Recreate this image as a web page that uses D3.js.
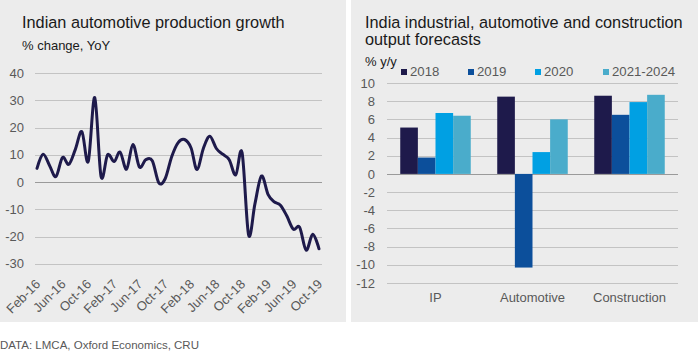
<!DOCTYPE html>
<html><head><meta charset="utf-8">
<script src="https://cdn.jsdelivr.net/npm/d3@7"></script>
<style>
body{margin:0;background:#fff;}
svg{display:block;font-family:"Liberation Sans",Arial,sans-serif;}
</style></head>
<body><svg id="c" width="698" height="351"></svg>
<script>
// ---- Left chart data ----
const lineStart = new Date(2016, 1, 1);   // Feb-16
const lineEnd = new Date(2019, 9, 1);     // Oct-19
const growth = [5, 10.2, 6, 2, 9, 6.5, 12, 18.5, 7.5, 31, 2,
  10, 7.5, 11, 4.7, 13.8, 5.5, 8.2, 7.8, -0.3, 1.2, 9.3, 14.4,
  15.6, 12.5, 4.6, 12.5, 16.8, 12.3, 10.2, 8.2, 2.6, 10.8, -19.4, -8,
  2.2, -4.5, -7.2, -8.5, -12.4, -17.3, -16.6, -25, -19.2, -24.5];
const xTickLabels = ["Feb-16","Jun-16","Oct-16","Feb-17","Jun-17","Oct-17","Feb-18","Jun-18","Oct-18","Feb-19","Jun-19","Oct-19"];
const leftYTicks = [40, 30, 20, 10, 0, -10, -20, -30];

// ---- Right chart data ----
const categories = ["IP", "Automotive", "Construction"];
const seriesNames = ["2018", "2019", "2020", "2021-2024"];
const s2018 = [5.1, 8.5, 8.6];
const s2019 = [1.8, -10.3, 6.5];
const s2020 = [6.7, 2.4, 7.9];
const s2021 = [6.4, 6.0, 8.7];
const rightYTicks = [10, 8, 6, 4, 2, 0, -2, -4, -6, -8, -10, -12];

const colors = ["#1e1a4b", "#0c4f9b", "#00a0e3", "#4aaccb"];
const bg = "#ececec", grid = "#c3c3c3", tickCol = "#595959", titleCol = "#1a1a1a";

const svg = d3.select("#c");
// panels
svg.append("rect").attr("x", 0).attr("y", 0).attr("width", 346).attr("height", 322).attr("fill", bg);
svg.append("rect").attr("x", 351).attr("y", 0).attr("width", 347).attr("height", 322).attr("fill", bg);

// ---------- LEFT ----------
const months = d3.timeMonth.range(lineStart, d3.timeMonth.offset(lineEnd, 1));
const data = months.map((d, i) => ({date: d, v: growth[i]}));
const xL = d3.scaleTime().domain([lineStart, lineEnd]).range([37, 319]);
const yL = d3.scaleLinear().domain([-30, 40]).range([263.8, 73]);

svg.append("text").attr("x", 22).attr("y", 28).attr("font-size", 16.3).attr("fill", titleCol)
  .text("Indian automotive production growth");
svg.append("text").attr("x", 22).attr("y", 50).attr("font-size", 13).attr("fill", titleCol)
  .text("% change, YoY");

const gL = svg.append("g");
gL.selectAll("line.g").data(leftYTicks).join("line")
  .attr("x1", 35).attr("x2", 322)
  .attr("y1", d => Math.round(yL(d)) + 0.5).attr("y2", d => Math.round(yL(d)) + 0.5)
  .attr("stroke", d => d === 0 ? "#9a9a9a" : grid).attr("stroke-width", 1);
gL.selectAll("text.y").data(leftYTicks).join("text")
  .attr("x", 24).attr("y", d => yL(d)).attr("dy", "0.36em")
  .attr("text-anchor", "end").attr("font-size", 13).attr("fill", tickCol)
  .text(d => d);

const tickDates = d3.timeMonth.range(lineStart, d3.timeMonth.offset(lineEnd, 1), 4);
gL.selectAll("text.x").data(tickDates).join("text")
  .attr("text-anchor", "end").attr("font-size", 13).attr("fill", tickCol)
  .attr("transform", d => `translate(${xL(d) + 4},${285}) rotate(-45)`)
  .text((d, i) => xTickLabels[i]);

const line = d3.line().x(d => xL(d.date)).y(d => yL(d.v)).curve(d3.curveCatmullRom.alpha(0));
gL.append("path").datum(data).attr("d", line)
  .attr("fill", "none").attr("stroke", "#1e1a4b").attr("stroke-width", 3)
  .attr("stroke-linejoin", "round").attr("stroke-linecap", "round");

// ---------- RIGHT ----------
svg.append("text").attr("x", 365).attr("y", 27.5).attr("font-size", 16.3).attr("fill", titleCol)
  .text("India industrial, automotive and construction");
svg.append("text").attr("x", 365).attr("y", 44.5).attr("font-size", 16.3).attr("fill", titleCol)
  .text("output forecasts");
svg.append("text").attr("x", 365).attr("y", 66).attr("font-size", 13).attr("fill", titleCol)
  .text("% y/y");

const yR = d3.scaleLinear().domain([-12, 10]).range([283, 83]);
const xR = d3.scaleBand().domain(categories).range([387, 678]).paddingInner(0.273).paddingOuter(0.1365);
const xS = d3.scaleBand().domain(seriesNames).range([0, xR.bandwidth()]);
const allSeries = [s2018, s2019, s2020, s2021];

const gR = svg.append("g");
gR.selectAll("line").data(rightYTicks).join("line")
  .attr("x1", 387).attr("x2", 678)
  .attr("y1", d => Math.round(yR(d)) + 0.5).attr("y2", d => Math.round(yR(d)) + 0.5)
  .attr("stroke", d => d === 0 ? "#9a9a9a" : grid);
gR.selectAll("text.y").data(rightYTicks).join("text")
  .attr("x", 375).attr("y", d => yR(d)).attr("dy", "0.36em")
  .attr("text-anchor", "end").attr("font-size", 13).attr("fill", tickCol).text(d => d);

const bars = [];
categories.forEach((c, ci) => allSeries.forEach((s, si) => bars.push({c, si, v: s[ci]})));
gR.selectAll("rect").data(bars).join("rect")
  .attr("x", d => xR(d.c) + xS(seriesNames[d.si]))
  .attr("width", xS.bandwidth())
  .attr("y", d => yR(Math.max(0, d.v)))
  .attr("height", d => Math.abs(yR(d.v) - yR(0)))
  .attr("fill", d => colors[d.si]);

gR.selectAll("text.cat").data(categories).join("text")
  .attr("x", d => xR(d) + xR.bandwidth() / 2).attr("y", 301.5)
  .attr("text-anchor", "middle").attr("font-size", 13).attr("fill", tickCol).text(d => d);

// legend
const legX = [401, 468, 535, 603];
const leg = svg.append("g");
seriesNames.forEach((n, i) => {
  leg.append("rect").attr("x", legX[i]).attr("y", 69).attr("width", 6).attr("height", 6).attr("fill", colors[i]);
  leg.append("text").attr("x", legX[i] + 9).attr("y", 76).attr("font-size", 13.2).attr("fill", tickCol).text(n);
});

// footer
svg.append("text").attr("x", 0).attr("y", 348.5).attr("font-size", 11.5).attr("fill", tickCol)
  .text("DATA: LMCA, Oxford Economics, CRU");
</script>
</body></html>
